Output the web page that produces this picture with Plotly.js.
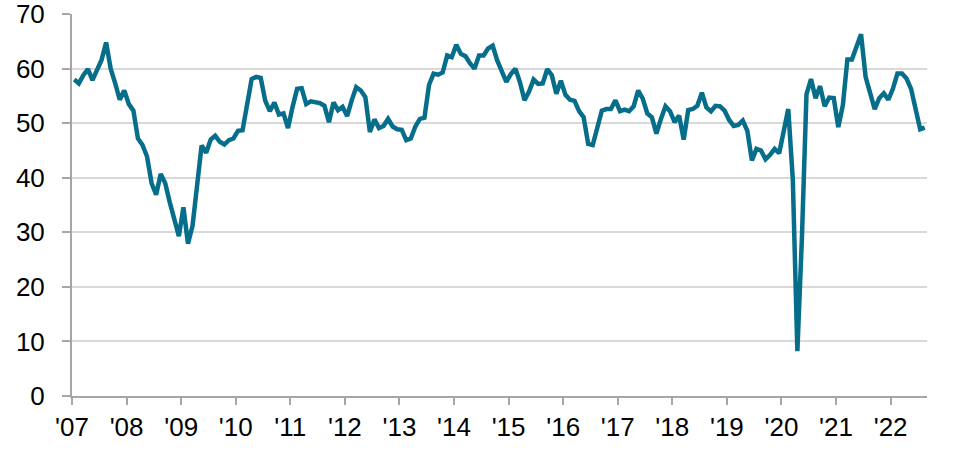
<!DOCTYPE html>
<html>
<head>
<meta charset="utf-8">
<script src="https://cdn.plot.ly/plotly-3.0.1.min.js"></script>
<style>
  html, body { margin: 0; padding: 0; background: #ffffff; }
  #chart { width: 960px; height: 454px; }
</style>
</head>
<body>
<div id="chart"></div>
<script>
// Monthly index values, Jan 2007 .. Aug 2022
const startYear = 2007;
const values2007 = [58.0, 57.3, 58.8, 59.9, 57.9, 59.8, 61.6, 64.8, 60.0, 57.3, 54.3, 56.0];
const values2008 = [53.5, 52.3, 47.2, 46.0, 43.9, 39.0, 36.9, 40.7, 39.0, 35.5, 32.0, 29.3];
const values2009 = [34.6, 27.9, 31.2, 38.5, 45.9, 44.6, 47.0, 47.7, 46.6, 46.1, 46.9, 47.2];
const values2010 = [48.6, 48.7, 53.0, 58.1, 58.5, 58.3, 54.1, 52.2, 53.8, 51.6, 51.8, 49.1];
const values2011 = [53.0, 56.3, 56.4, 53.5, 54.0, 53.9, 53.7, 53.2, 50.2, 53.8, 52.4, 53.0];
const values2012 = [51.3, 54.2, 56.6, 56.0, 54.8, 48.4, 50.7, 49.1, 49.5, 50.8, 49.4, 48.9];
const values2013 = [48.8, 46.9, 47.2, 49.4, 50.8, 51.0, 57.0, 59.1, 58.9, 59.3, 62.4, 62.1];
const values2014 = [64.4, 62.7, 62.3, 61.0, 60.0, 62.4, 62.4, 63.7, 64.2, 61.5, 59.5, 57.6];
const values2015 = [59.0, 60.0, 57.5, 54.2, 55.8, 58.0, 57.2, 57.3, 59.9, 58.8, 55.4, 57.8];
const values2016 = [55.2, 54.3, 54.1, 52.2, 51.1, 46.2, 46.0, 49.2, 52.3, 52.6, 52.6, 54.2];
const values2017 = [52.2, 52.5, 52.2, 53.1, 56.0, 54.5, 51.8, 51.1, 48.1, 50.8, 53.1, 52.2];
const values2018 = [50.2, 51.4, 47.0, 52.4, 52.6, 53.2, 55.6, 52.9, 52.2, 53.2, 53.1, 52.3];
const values2019 = [50.6, 49.5, 49.7, 50.5, 48.6, 43.2, 45.3, 45.0, 43.4, 44.2, 45.3, 44.5];
const values2020 = [48.5, 52.6, 39.6, 8.2, 29.0, 55.3, 58.1, 54.6, 56.8, 53.1, 54.7, 54.6];
const values2021 = [49.3, 53.3, 61.7, 61.7, 64.0, 66.3, 58.5, 55.3, 52.6, 54.6, 55.5, 54.3];
const values2022 = [56.3, 59.1, 59.1, 58.2, 56.3, 52.6, 48.9, 49.2];

const tickYears = [2007, 2008, 2009, 2010, 2011, 2012, 2013, 2014, 2015, 2016, 2017, 2018, 2019, 2020, 2021, 2022];
const tickLabels = ["'07", "'08", "'09", "'10", "'11", "'12", "'13", "'14", "'15", "'16", "'17", "'18", "'19", "'20", "'21", "'22"];
const yTicks = [0, 10, 20, 30, 40, 50, 60, 70];

const values = [].concat(values2007, values2008, values2009, values2010, values2011,
  values2012, values2013, values2014, values2015, values2016, values2017,
  values2018, values2019, values2020, values2021, values2022);
// each month plotted at its middle
const xs = values.map((v, i) => startYear + (i + 0.5) / 12);

const trace = {
  x: xs,
  y: values,
  type: 'scatter',
  mode: 'lines',
  line: { color: '#066d8a', width: 4.5, shape: 'linear' },
  hoverinfo: 'skip'
};

const layout = {
  width: 960,
  height: 454,
  margin: { l: 72, r: 33, t: 14, b: 58, pad: 0 },
  paper_bgcolor: '#ffffff',
  plot_bgcolor: '#ffffff',
  showlegend: false,
  font: { family: 'Liberation Sans, Arial, sans-serif', size: 26, color: '#000000' },
  xaxis: {
    range: [2007, 2022.667],
    tickmode: 'array',
    tickvals: tickYears,
    ticktext: tickLabels,
    showgrid: false,
    zeroline: false,
    showline: true,
    linecolor: '#a6a6a6',
    linewidth: 2,
    ticks: 'outside',
    ticklen: 7,
    tickwidth: 2,
    tickcolor: '#a6a6a6',
    ticklabelstandoff: 0,
    ticklabeloverflow: 'allow',
    tickfont: { size: 26, color: '#000000' }
  },
  yaxis: {
    range: [0, 70.02],
    tickmode: 'array',
    tickvals: yTicks,
    ticktext: yTicks.map(String),
    showgrid: true,
    gridcolor: '#d9d9d9',
    gridwidth: 2,
    zeroline: false,
    showline: true,
    linecolor: '#a6a6a6',
    linewidth: 2,
    ticks: 'outside',
    ticklen: 8,
    tickwidth: 2,
    tickcolor: '#a6a6a6',
    ticklabelstandoff: 12,
    ticklabeloverflow: 'allow',
    tickfont: { size: 26, color: '#000000' }
  }
};

Plotly.newPlot('chart', [trace], layout, { staticPlot: true, displayModeBar: false });
</script>
</body>
</html>
